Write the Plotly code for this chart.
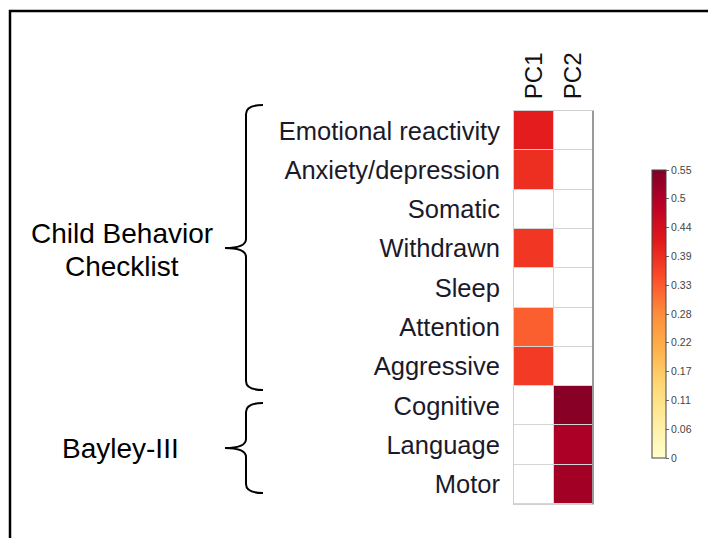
import plotly.graph_objects as go

# ---- data ----
rows = ["Emotional reactivity", "Anxiety/depression", "Somatic", "Withdrawn", "Sleep",
        "Attention", "Aggressive", "Cognitive", "Language", "Motor"]
components = ["PC1", "PC2"]
pc1_loadings = [0.41, 0.385, None, 0.375, None, 0.325, 0.37, None, None, None]
pc2_loadings = [None, None, None, None, None, None, None, 0.54, 0.50, 0.51]
colorbar_tickvals = [0, 0.055, 0.11, 0.165, 0.22, 0.275, 0.33, 0.385, 0.44, 0.495, 0.55]
colorbar_ticktext = ["0", "0.06", "0.11", "0.17", "0.22", "0.28", "0.33", "0.39", "0.44", "0.5", "0.55"]
group1_lines = ["Child Behavior", "Checklist"]
group2_label = "Bayley-III"

OFF = 8            # page body margin of the html page
W, H = 716 - OFF, 538 - OFF

def px(x):
    return (x - OFF) / W

def py(y):
    return 1 - (y - OFF) / H

FONT = "Liberation Sans, Arial"

ylorrd = ["#ffffcc", "#ffeda0", "#fed976", "#feb24c", "#fd8d3c",
          "#fc4e2a", "#e31a1c", "#bd0026", "#800026"]
cscale = [[i / (len(ylorrd) - 1), c] for i, c in enumerate(ylorrd)]

z = [[a, b] for a, b in zip(pc1_loadings, pc2_loadings)]
z_bg = [[0, 0] for _ in rows]

fig = go.Figure()
fig.add_trace(go.Heatmap(x=components, y=rows, z=z_bg,
                         colorscale=[[0, "white"], [1, "white"]], showscale=False,
                         xgap=1, ygap=1, hoverinfo="skip"))
fig.add_trace(go.Heatmap(
    x=components, y=rows, z=z, zmin=0, zmax=0.55, colorscale=cscale,
    xgap=1, ygap=1,
    colorbar=dict(
        x=px(652), xanchor="left", xpad=0, y=py(314), yanchor="middle", ypad=0,
        len=(458 - 170) / H, lenmode="fraction", thickness=14, thicknessmode="pixels",
        outlinewidth=1, outlinecolor="#444",
        tickvals=colorbar_tickvals, ticktext=colorbar_ticktext,
        ticks="outside", ticklen=3, tickcolor="#666",
        tickfont=dict(family=FONT, size=10.5, color="#444"),
    ),
))

shapes = []
# outer black frame (only top & left visible in the picture)
shapes.append(dict(type="rect", xref="paper", yref="paper",
                   x0=px(10), y0=-0.1, x1=1.1, y1=py(11),
                   line=dict(color="black", width=2.5), fillcolor="rgba(0,0,0,0)"))
# darker right edge of heatmap
shapes.append(dict(type="line", xref="x domain", yref="y domain",
                   x0=1, x1=1, y0=0, y1=1, line=dict(color="#888", width=1.5)))

def brace(top, bottom, tip, xv=246, xe=263, xt=225):
    pts = [
        f"M {px(xe)} {py(top)}",
        f"Q {px(xv)} {py(top)} {px(xv)} {py(top + 9)}",
        f"L {px(xv)} {py(tip - 9)}",
        f"Q {px(xv)} {py(tip)} {px(xt)} {py(tip)}",
        f"Q {px(xv)} {py(tip)} {px(xv)} {py(tip + 9)}",
        f"L {px(xv)} {py(bottom - 9)}",
        f"Q {px(xv)} {py(bottom)} {px(xe)} {py(bottom)}",
    ]
    return dict(type="path", xref="paper", yref="paper", path=" ".join(pts),
                line=dict(color="black", width=2))

shapes.append(brace(105, 390, 248))
shapes.append(brace(403, 493, 448))

gfont = dict(family=FONT, size=28, color="black")
annotations = [
    dict(text=group1_lines[0], x=px(122), y=py(233), xref="paper", yref="paper",
         showarrow=False, xanchor="center", yanchor="middle", font=gfont),
    dict(text=group1_lines[1], x=px(122), y=py(266), xref="paper", yref="paper",
         showarrow=False, xanchor="center", yanchor="middle", font=gfont),
    dict(text=group2_label, x=px(120), y=py(448), xref="paper", yref="paper",
         showarrow=False, xanchor="center", yanchor="middle", font=gfont),
]

fig.update_layout(
    width=W, height=H,
    margin=dict(l=0, r=0, t=0, b=0),
    paper_bgcolor="white",
    plot_bgcolor="#d4d4d4",
    shapes=shapes,
    annotations=annotations,
    xaxis=dict(domain=[px(514), px(593)], side="top", tickangle=-90,
               showgrid=False, zeroline=False, ticks="", ticklabelstandoff=6,
               showline=True, mirror=True, linecolor="#cfcfcf", linewidth=1,
               tickfont=dict(family=FONT, size=24, color="#111")),
    yaxis=dict(domain=[py(504), py(111)], autorange="reversed",
               showgrid=False, zeroline=False, ticks="", ticklabelstandoff=8,
               showline=True, mirror=True, linecolor="#cfcfcf", linewidth=1,
               tickfont=dict(family=FONT, size=25.5, color="#1a1a2a")),
)

fig.write_html("out.html")
